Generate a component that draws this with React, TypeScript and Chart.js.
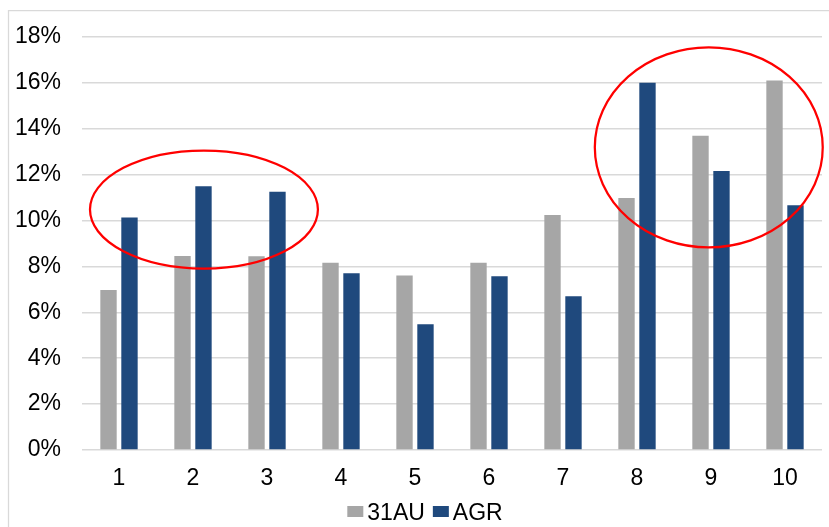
import React, { useEffect, useRef } from "react";
import { Chart, registerables } from "chart.js";

Chart.register(...registerables);

const categories = ["1", "2", "3", "4", "5", "6", "7", "8", "9", "10"];
const series31AU = [6.97, 8.46, 8.44, 8.16, 7.61, 8.16, 10.24, 10.98, 13.7, 16.1];
const seriesAGR = [10.13, 11.49, 11.26, 7.7, 5.48, 7.57, 6.7, 16.01, 12.16, 10.67];
const seriesNames = ["31AU", "AGR"];
const yMin = 0;
const yMax = 18;
const yStep = 2;

// highlight ellipses in data units: [category index centre, value centre, index radius, value radius]
const ellipseLeft = [1.148, 10.48, 1.54, 2.57];
const ellipseRight = [7.97, 13.19, 1.54, 4.36];
const ellipses = [ellipseLeft, ellipseRight];

const FONT = "'Liberation Sans', Arial, sans-serif";

const framePlugin = {
  id: "frame",
  beforeDraw(chart: any) {
    const ctx = chart.ctx;
    ctx.save();
    ctx.strokeStyle = "#d9d9d9";
    ctx.lineWidth = 1.25;
    ctx.beginPath();
    ctx.moveTo(8.5, chart.height);
    ctx.lineTo(8.5, 10.5);
    ctx.lineTo(chart.width, 10.5);
    ctx.stroke();
    ctx.restore();
  },
};

const ellipsePlugin = {
  id: "ellipses",
  afterDatasetsDraw(chart: any) {
    const { ctx } = chart;
    const xs = chart.scales.x;
    const ys = chart.scales.y;
    ctx.save();
    ctx.strokeStyle = "#ff0000";
    ctx.lineWidth = 2.25;
    for (const [cx, cy, rx, ry] of ellipses) {
      const px = xs.getPixelForValue(cx);
      const py = ys.getPixelForValue(cy);
      const prx = Math.abs(xs.getPixelForValue(cx + rx) - px);
      const pry = Math.abs(ys.getPixelForValue(cy + ry) - py);
      ctx.beginPath();
      ctx.ellipse(px, py, prx, pry, 0, 0, Math.PI * 2);
      ctx.stroke();
    }
    ctx.restore();
  },
};

// compact legend in the Excel style (small gap between swatch and text)
const legendPlugin = {
  id: "compactLegend",
  afterDraw(chart: any) {
    const { ctx } = chart;
    const boxW = 16;
    const boxH = 11;
    const textGap = 4;
    const itemGap = 8;
    const centerX = 425;
    const midY = 513;
    ctx.save();
    ctx.font = `23px ${FONT}`;
    ctx.textBaseline = "middle";
    ctx.textAlign = "left";
    const items = chart.data.datasets.map((d: any) => ({
      label: d.label,
      color: d.backgroundColor,
      w: ctx.measureText(d.label).width,
    }));
    const total =
      items.reduce((s: number, it: any) => s + boxW + textGap + it.w, 0) +
      itemGap * (items.length - 1);
    let x = centerX - total / 2;
    for (const it of items) {
      ctx.fillStyle = it.color;
      ctx.fillRect(x, midY - boxH / 2 - 1.5, boxW, boxH);
      x += boxW + textGap;
      ctx.fillStyle = "#000";
      ctx.fillText(it.label, x, midY + 1);
      x += it.w + itemGap;
    }
    ctx.restore();
  },
};

export default function App() {
  const ref = useRef<HTMLCanvasElement | null>(null);

  useEffect(() => {
    if (!ref.current) return;
    const chart = new Chart(ref.current, {
      type: "bar",
      data: {
        labels: categories,
        datasets: [
          {
            label: seriesNames[0],
            data: series31AU,
            backgroundColor: "#a6a6a6",
            categoryPercentage: 0.567,
            barPercentage: 0.78,
          },
          {
            label: seriesNames[1],
            data: seriesAGR,
            backgroundColor: "#1f497d",
            categoryPercentage: 0.567,
            barPercentage: 0.78,
          },
        ],
      },
      options: {
        animation: false,
        responsive: false,
        maintainAspectRatio: false,
        layout: { padding: { left: 0, right: 7, top: 37, bottom: 35 } },
        plugins: {
          tooltip: { enabled: false },
          legend: { display: false },
        },
        scales: {
          x: {
            grid: { display: false, drawTicks: false },
            border: { display: false },
            ticks: {
              color: "#000",
              padding: 15,
              font: { family: FONT, size: 23 },
            },
            afterFit: (s: any) => {
              s.height = 42;
            },
          },
          y: {
            min: yMin,
            max: yMax,
            grid: { color: "#d9d9d9", lineWidth: 1.5, drawTicks: false },
            border: { display: false },
            ticks: {
              stepSize: yStep,
              color: "#000",
              padding: 21,
              font: { family: FONT, size: 23 },
              callback: (v: any) => `${v}%`,
            },
            afterFit: (s: any) => {
              s.width = 82;
            },
          },
        },
      },
      plugins: [framePlugin, ellipsePlugin, legendPlugin],
    });
    return () => chart.destroy();
  }, []);

  return (
    <div
      style={{
        position: "fixed",
        left: 0,
        top: 0,
        width: 829,
        height: 527,
        overflow: "hidden",
        background: "#fff",
      }}
    >
      <canvas ref={ref} width={829} height={527} style={{ display: "block" }} />
    </div>
  );
}
